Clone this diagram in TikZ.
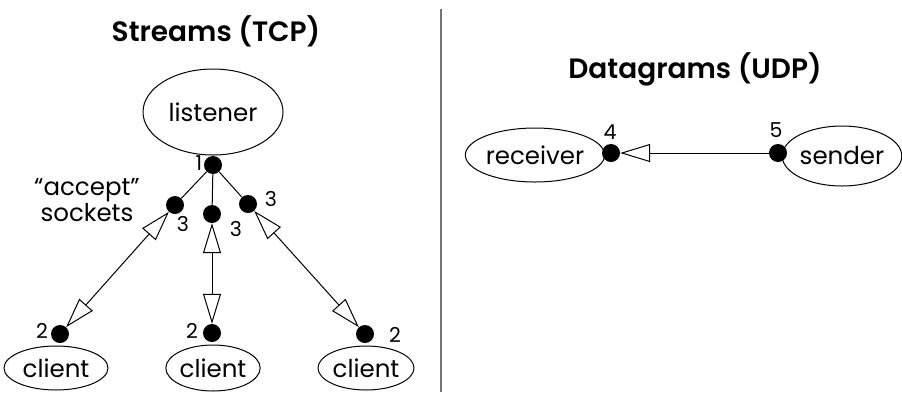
\documentclass[tikz,border=0pt]{standalone}
\usepackage{fontspec}
\setmainfont{Poppins}[BoldFont={Poppins SemiBold}]
\usetikzlibrary{arrows.meta,shapes.geometric}
\begin{document}
\begin{tikzpicture}[x=1pt,y=-1pt,
  ell/.style={draw, ellipse, line width=1pt, inner sep=0pt, font=\fontsize{24.5}{28}\selectfont},
  dot/.style={circle, fill=black, inner sep=0pt, minimum size=18pt},
  num/.style={inner sep=0pt, font=\fontsize{20.5}{22}\selectfont},
  title/.style={inner sep=0pt, font=\fontsize{28}{32}\selectfont\bfseries},
  lbl/.style={inner sep=0pt, align=center, font=\fontsize{24.5}{21}\selectfont},
  conn/.style={line width=1pt},
  tip/.tip={Triangle[fill=white, length=30pt, width=18pt, line width=1pt]},
  dbl/.style={conn, tip-tip},
  sgl/.style={conn, -tip}
]
\useasboundingbox (0,0) rectangle (902,392);
% divider
\coordinate (divtop) at (441,9);
\coordinate (divbot) at (441,392);
\draw[line width=1.5pt, black!55] (divtop) -- (divbot);

% titles
\node[title] (ttcp) at (216,31) {Streams (TCP)};
\node[title] (tudp) at (695,69) {Datagrams (UDP)};

% Streams
\node[ell, minimum width=140pt, minimum height=86pt] (listener) at (213,112) {listener};
\node[ell, minimum width=104pt, minimum height=44pt] (c1) at (56,368) {client};
\node[ell, minimum width=94pt, minimum height=46pt] (c2) at (213,368) {client};
\node[ell, minimum width=96pt, minimum height=44pt] (c3) at (366,368) {client};

\node[dot] (d1) at (213,165) {};
\node[dot] (s1) at (175,205) {};
\node[dot] (s2) at (212,214) {};
\node[dot] (s3) at (248,204) {};
\node[dot] (p1) at (60,334) {};
\node[dot] (p2) at (212,333) {};
\node[dot] (p3) at (365,334) {};

\draw[conn] (d1) -- (s1);
\draw[conn] (d1) -- (s2);
\draw[conn] (d1) -- (s3);
\draw[dbl] (p1) -- (s1);
\draw[dbl] (p2) -- (s2);
\draw[dbl] (p3) -- (s3);

\node[num] (n1) at (199,163) {1};
\node[num] (n3a) at (183,224) {3};
\node[num] (n3b) at (236,229) {3};
\node[num] (n3c) at (271,199) {3};
\node[num] (n2a) at (42,331) {2};
\node[num] (n2b) at (192,331) {2};
\node[num] (n2c) at (395,335) {2};

\node[lbl] (accept) at (87,200) {“accept”\\sockets};

% Datagrams
\node[ell, minimum width=136pt, minimum height=54pt] (recv) at (535,155) {receiver};
\node[ell, minimum width=118pt, minimum height=60pt] (send) at (842,156) {sender};
\node[dot] (d4) at (611,153) {};
\node[dot] (d5) at (778,153) {};
\draw[sgl] (d5) -- (d4);
\node[num] (n4) at (610,132) {4};
\node[num] (n5) at (776,130) {5};
\end{tikzpicture}
\end{document}
